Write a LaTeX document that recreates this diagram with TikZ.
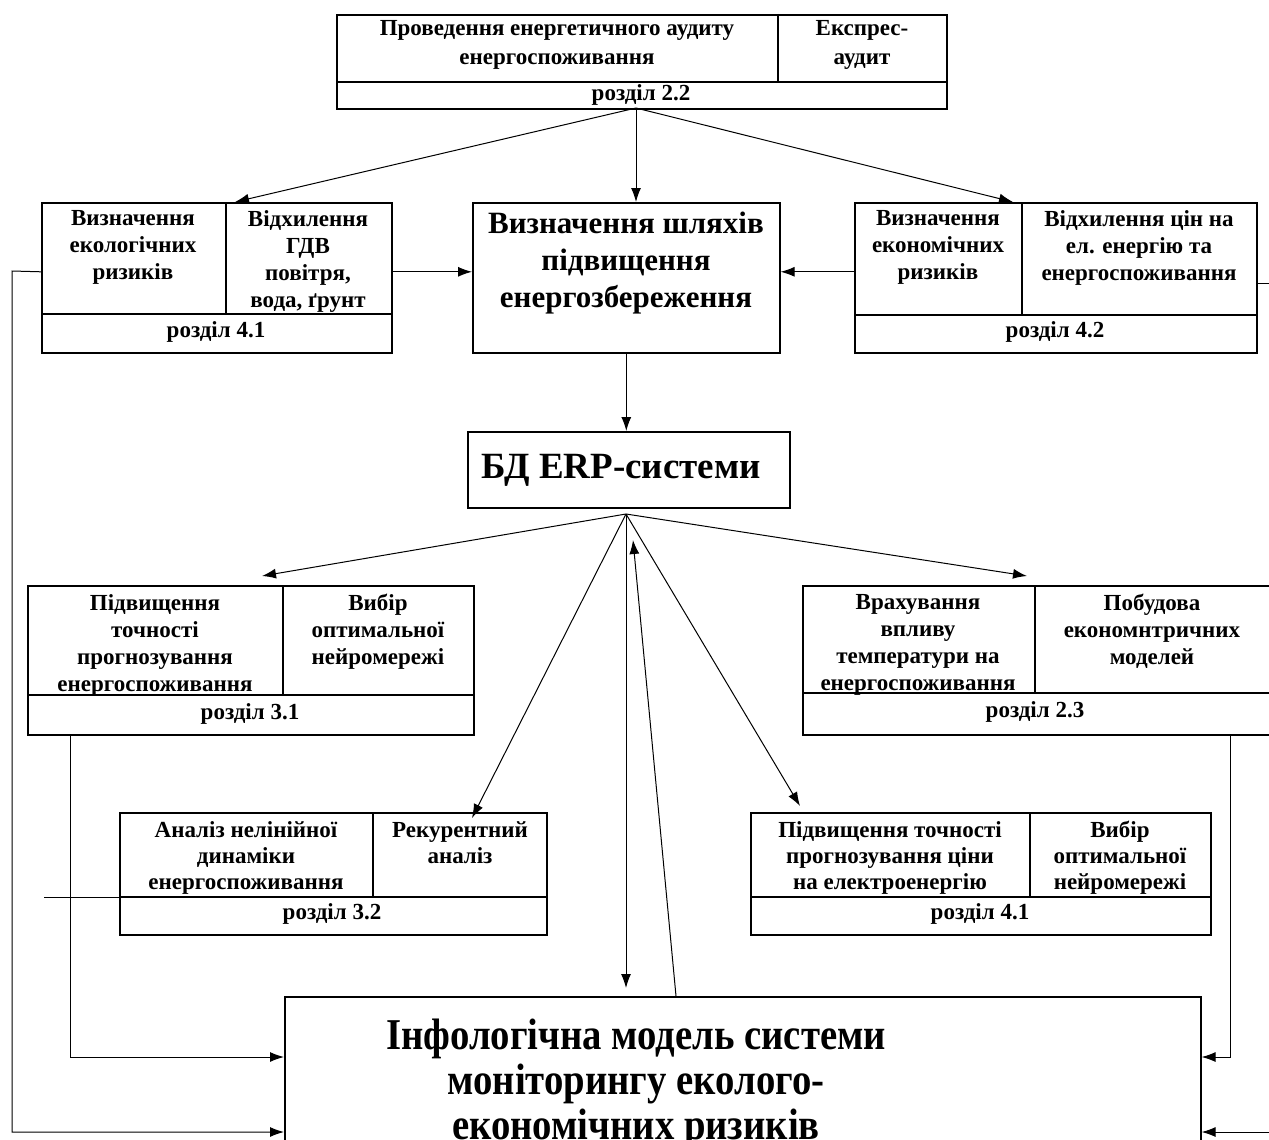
\documentclass[tikz,border=0pt]{standalone}
\usepackage{fontspec}
\setmainfont{Liberation Serif}
\newfontfamily\condserif[FakeStretch=0.88]{Liberation Serif}
\usetikzlibrary{arrows.meta}
\begin{document}
\begin{tikzpicture}[x=1pt,y=-1pt,
 box/.style={draw, line width=1.6pt, inner sep=0, anchor=north west},
 cell/.style={font=\bfseries\fontsize{23}{27}\selectfont, align=center, anchor=north, inner sep=0},
 sec/.style={font=\bfseries\fontsize{23}{27}\selectfont, inner sep=0},
 div/.style={line width=1.6pt},
 arr/.style={line width=1pt, -{Latex[length=14pt,width=10pt]}},
 ln/.style={line width=1pt}]
\useasboundingbox (0,0) rectangle (1269,1140);
\clip (0,0) rectangle (1269,1140);
% boxes
\node[box, minimum width=610pt, minimum height=94pt] (top) at (336,14) {};
\node[box, minimum width=350pt, minimum height=150pt] (ecol) at (41,202) {};
\node[box, minimum width=307pt, minimum height=150pt] (cent) at (472,202) {};
\node[box, minimum width=402pt, minimum height=150pt] (econ) at (854,202) {};
\node[box, minimum width=322pt, minimum height=76pt] (bd) at (467,431) {};
\node[box, minimum width=446pt, minimum height=149pt] (s31) at (27,585) {};
\node[box, minimum width=475pt, minimum height=149pt] (s23) at (802,585) {};
\node[box, minimum width=427pt, minimum height=122pt] (s32) at (119,812) {};
\node[box, minimum width=460pt, minimum height=122pt] (s41) at (750,812) {};
\node[box, minimum width=916pt, minimum height=170pt] (info) at (284,996) {};
% dividers
\draw[div] (778,14) -- (778,82);  \draw[div] (336,82) -- (946,82);
\draw[div] (226,202) -- (226,314); \draw[div] (41,314) -- (391,314);
\draw[div] (1022,202) -- (1022,315); \draw[div] (854,315) -- (1256,315);
\draw[div] (283,585) -- (283,695); \draw[div] (27,695) -- (473,695);
\draw[div] (1035,585) -- (1035,693); \draw[div] (802,693) -- (1269,693);
\draw[div] (373,812) -- (373,897); \draw[div] (119,897) -- (546,897);
\draw[div] (1030,812) -- (1030,897); \draw[div] (750,897) -- (1210,897);
% texts
\node[cell, font=\bfseries\fontsize{23}{29}\selectfont] (t1) at (557,20) {Проведення енергетичного аудиту\\енергоспоживання};
\node[cell, font=\bfseries\fontsize{23}{29}\selectfont] (t2) at (862,20) {Експрес-\\аудит};
\node[sec] (t3) at (641,95) {розділ 2.2};
\node[cell] (e1) at (133,210) {Визначення\\екологічних\\ризиків};
\node[cell] (e2) at (308,210) {Відхилення\\ГДВ\\повітря,\\вода, ґрунт};
\node[sec] (e3) at (216,332) {розділ 4.1};
\node[cell] (n1) at (938,210) {Визначення\\економічних\\ризиків};
\node[cell] (n2) at (1139,210) {Відхилення цін на\\ел. енергію та\\енергоспоживання};
\node[sec] (n3) at (1055,332) {розділ 4.2};
\node[font=\bfseries\fontsize{31}{37}\selectfont, align=center] (c1) at (626,263) {Визначення шляхів\\підвищення\\енергозбереження};
\node[font=\bfseries\fontsize{37}{40}\selectfont] (b1) at (621,470) {БД ERP-системи};
\node[cell] (p1) at (155,594) {Підвищення\\точності\\прогнозування\\енергоспоживання};
\node[cell] (p2) at (378,594) {Вибір\\оптимальної\\нейромережі};
\node[sec] (p3) at (250,714) {розділ 3.1};
\node[cell] (q1) at (918,594) {Врахування\\впливу\\температури на\\енергоспоживання};
\node[cell] (q2) at (1152,594) {Побудова\\економнтричних\\моделей};
\node[sec] (q3) at (1035,712) {розділ 2.3};
\node[cell, font=\bfseries\fontsize{23}{26}\selectfont] (a1) at (246,821) {Аналіз нелінійної\\динаміки\\енергоспоживання};
\node[cell, font=\bfseries\fontsize{23}{26}\selectfont] (a2) at (460,821) {Рекурентний\\аналіз};
\node[sec] (a3) at (332,914) {розділ 3.2};
\node[cell, font=\bfseries\fontsize{23}{26}\selectfont] (r1) at (890,821) {Підвищення точності\\прогнозування ціни\\на електроенергію};
\node[cell, font=\bfseries\fontsize{23}{26}\selectfont] (r2) at (1120,821) {Вибір\\оптимальної\\нейромережі};
\node[sec] (r3) at (980,914) {розділ 4.1};
\node[font=\condserif\bfseries\fontsize{44}{45}\selectfont, align=center, anchor=north, inner sep=0] (i1) at (636,1019) {Інфологічна модель системи\\моніторингу еколого-\\економічних ризиків};
% connector coordinates
\coordinate (tS) at (636,108);
\coordinate (bS) at (626,514);
\coordinate (a31) at (262,576);
\coordinate (a23) at (1027,576);
\coordinate (a32) at (472,818);
\coordinate (a41) at (800,806);
\coordinate (aI) at (626,988);
\coordinate (up) at (633,540);
% connectors
\draw[arr] (tS) -- (235,0 |- ecol.north);
\draw[arr] (tS) -- (tS |- cent.north);
\draw[arr] (tS) -- (1013,0 |- econ.north);
\draw[arr] ([yshift=6pt]ecol.east) -- ([yshift=6pt]cent.west);
\draw[arr] ([yshift=6pt]econ.west) -- ([yshift=6pt]cent.east);
\draw[arr] (cent.south) -- (cent.south |- bd.north);
\draw[arr] (bS) -- (a31);
\draw[arr] (bS) -- (a23);
\draw[arr] (bS) -- (a32);
\draw[arr] (bS) -- (a41);
\draw[arr] (bS) -- (aI);
\draw[arr] (676,0 |- info.north) -- (up);
\draw[arr] ([yshift=6pt]ecol.west) -- (12,271) -- (12,1132) -- (info.west |- 0,1132);
\draw[arr] (70,0 |- s31.south) -- (70,1057) -- (info.west |- 0,1057);
\draw[arr] (1230,0 |- s23.south) -- (1230,1057) -- (info.east |- 0,1057);
\draw[arr] (1269,1132) -- (info.east |- 0,1132);
\draw[ln] (econ.east |- 0,283) -- (1269,283);
\draw[ln] (44,897) -- (s32.west |- 0,897);
\end{tikzpicture}
\end{document}
